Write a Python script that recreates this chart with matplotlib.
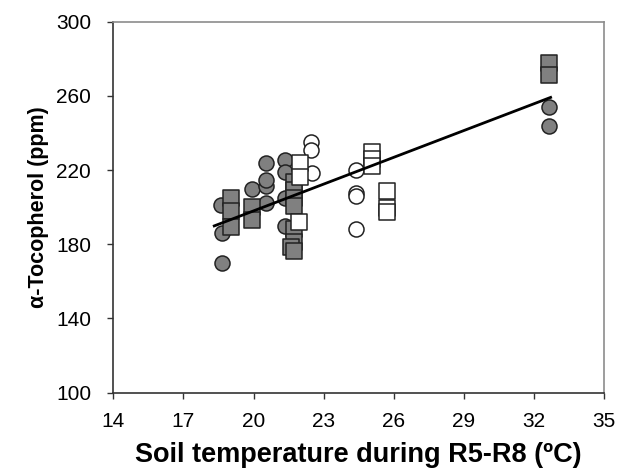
import matplotlib
matplotlib.use("Agg")
import matplotlib.pyplot as plt

plt.rcParams["font.family"] = ["Liberation Sans", "DejaVu Sans"]

# gray filled circles
gc_x = [18.64, 18.64, 18.60, 19.92, 20.53, 20.53, 20.53, 20.53, 21.33, 21.33, 21.33, 21.33, 32.62, 32.62]
gc_y = [170, 186, 201, 209.6, 202, 211.6, 214.6, 223.6, 225.6, 218.9, 204.8, 190, 254.2, 243.8]

# gray filled squares
gs_x = [19.03, 19.03, 19.03, 19.93, 19.93, 21.73, 21.73, 21.73, 21.73, 21.73, 21.73, 21.62, 21.73, 32.62, 32.62]
gs_y = [205.2, 197.7, 189.4, 200.2, 193.1, 213.8, 209.5, 205.0, 200.6, 188.0, 181.0, 178.5, 176.5, 277.6, 271.4]

# open circles
wc_x = [22.47, 22.47, 22.50, 24.38, 24.38, 24.38, 24.38]
wc_y = [235.3, 230.8, 218.3, 220.0, 207.5, 206.0, 188.2]

# open squares
ws_x = [21.97, 21.97, 21.93, 25.05, 25.05, 25.05, 25.72, 25.72, 25.72]
ws_y = [223.7, 216.5, 192.2, 230.0, 226.0, 222.0, 208.7, 199.5, 197.5]

# linear trend endpoints
trend_x = [18.32, 32.71]
trend_y = [189.9, 259.2]

x_ticks = [14, 17, 20, 23, 26, 29, 32, 35]
y_ticks = [100, 140, 180, 220, 260, 300]

fig = plt.figure(figsize=(6.19, 4.73), dpi=100)
ax = fig.add_axes([0.183, 0.170, 0.793, 0.784])

ms = 117
ax.scatter(gc_x, gc_y, s=ms, marker="o", facecolor="#808080", edgecolor="#222222", linewidth=1.1, zorder=3)
ax.scatter(gs_x, gs_y, s=ms, marker="s", facecolor="#808080", edgecolor="#222222", linewidth=1.1, zorder=3)
ax.scatter(wc_x, wc_y, s=ms, marker="o", facecolor="white", edgecolor="#222222", linewidth=1.1, zorder=3)
ax.scatter(ws_x, ws_y, s=ms, marker="s", facecolor="white", edgecolor="#222222", linewidth=1.1, zorder=3)
ax.plot(trend_x, trend_y, color="black", linewidth=2, zorder=4)

ax.set_xlim(14, 35)
ax.set_ylim(100, 300)
ax.set_xticks(x_ticks)
ax.set_yticks(y_ticks)
ax.tick_params(axis="both", direction="out", length=4, width=1, labelsize=15, color="#333333")
ax.tick_params(axis="x", pad=10)
ax.tick_params(axis="y", pad=12)

for side in ["left", "bottom"]:
    ax.spines[side].set_color("#333333")
for side in ["top", "right"]:
    ax.spines[side].set_color("#8c8c8c")
for sp in ax.spines.values():
    sp.set_linewidth(1.2)

ax.set_xlabel("Soil temperature during R5-R8 (ºC)", fontsize=19.5, fontweight="bold", labelpad=8)
ax.set_ylabel("α-Tocopherol (ppm)", fontsize=15.5, fontweight="bold", labelpad=5)

fig.savefig("out.png", dpi=100)
